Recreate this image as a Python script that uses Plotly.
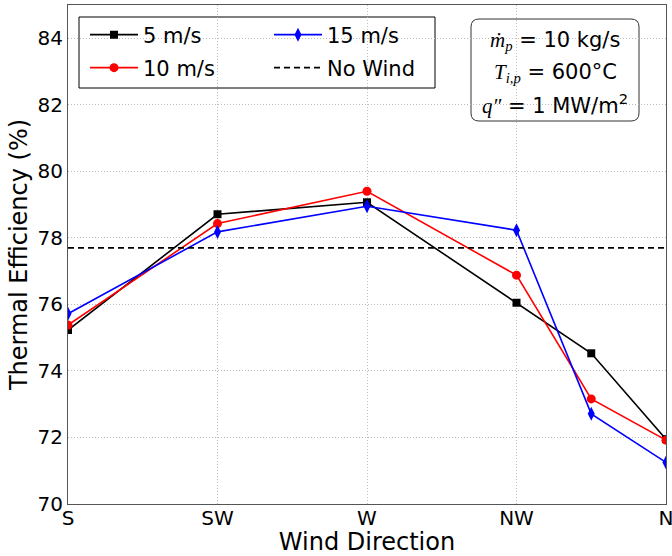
import plotly.graph_objects as go

# Wind direction, expressed as compass angle in degrees
wind_angle_deg = [180, 225, 270, 315, 337.5, 360]
direction_ticks = [180, 225, 270, 315, 360]
direction_labels = ["S", "SW", "W", "NW", "N"]

# Thermal efficiency (%) for each wind speed
eff_5ms = [75.23, 78.71, 79.07, 76.05, 74.53, 71.95]
eff_10ms = [75.38, 78.43, 79.40, 76.88, 73.16, 71.92]
eff_15ms = [75.72, 78.18, 78.95, 78.23, 72.71, 71.25]
eff_no_wind = 77.70

# plot-area geometry in pixels (used to place legend boxes / text box)
W, H = 672, 556
L, R, T, B = 68, 6, 5, 52
PW, PH = W - L - R, H - T - B


def px_x(px):
    return (px - L) / PW


def px_y(py):
    return (H - B - py) / PH


SANS = "DejaVu Sans"
SERIF = "Liberation Serif"

fig = go.Figure()

fig.add_trace(go.Scatter(
    x=wind_angle_deg, y=eff_5ms, name="5 m/s", mode="lines+markers",
    line=dict(color="black", width=1.6),
    marker=dict(symbol="square", size=8, color="black"),
    legend="legend",
))
fig.add_trace(go.Scatter(
    x=wind_angle_deg, y=eff_10ms, name="10 m/s", mode="lines+markers",
    line=dict(color="#ff0000", width=1.6),
    marker=dict(symbol="circle", size=9, color="#ff0000"),
    legend="legend2",
))
fig.add_trace(go.Scatter(
    x=wind_angle_deg, y=eff_15ms, name="15 m/s", mode="lines+markers",
    line=dict(color="#0000ff", width=1.6),
    marker=dict(symbol="diamond-tall", size=10, color="#0000ff"),
    legend="legend3",
))
fig.add_trace(go.Scatter(
    x=[direction_ticks[0], direction_ticks[-1]], y=[eff_no_wind, eff_no_wind],
    name="No Wind", mode="lines",
    line=dict(color="black", width=1.8, dash="6px,4px"),
    legend="legend4",
))

legend_common = dict(
    xanchor="left", yanchor="middle", bgcolor="rgba(0,0,0,0)",
    borderwidth=0, font=dict(family=SANS, size=21, color="black"),
    itemwidth=48, visible=True,
)
layout_legends = {
    "legend": dict(x=px_x(85), y=px_y(35), **legend_common),
    "legend2": dict(x=px_x(85), y=px_y(68), **legend_common),
    "legend3": dict(x=px_x(269), y=px_y(35), **legend_common),
    "legend4": dict(x=px_x(269), y=px_y(68), **legend_common),
}

# legend frame
shapes = [dict(
    type="rect", xref="paper", yref="paper",
    x0=px_x(79), x1=px_x(435), y0=px_y(88), y1=px_y(17),
    line=dict(color="black", width=1), fillcolor="white", layer="below",
)]

# rounded frame for the operating-condition text
bx0, bx1, by0, by1 = px_x(471), px_x(639), px_y(121), px_y(19)
rx, ry = 8 / PW, 8 / PH
path = (
    f"M {bx0 + rx},{by1} L {bx1 - rx},{by1} Q {bx1},{by1} {bx1},{by1 - ry} "
    f"L {bx1},{by0 + ry} Q {bx1},{by0} {bx1 - rx},{by0} "
    f"L {bx0 + rx},{by0} Q {bx0},{by0} {bx0},{by0 + ry} "
    f"L {bx0},{by1 - ry} Q {bx0},{by1} {bx0 + rx},{by1} Z"
)
shapes.append(dict(
    type="path", xref="paper", yref="paper", path=path,
    line=dict(color="#333333", width=1), fillcolor="white", layer="below",
))


def m(s):
    return f'<span style="font-family:{SERIF};font-style:italic">{s}</span>'


cond_lines = [
    f"{m('ṁ')}<sub>{m('p')}</sub> = 10 kg/s",
    f"{m('T')}<sub>{m('i,p')}</sub> = 600°C",
    f"{m('q″')} = 1 MW/m<sup>2</sup>",
]
cond_y = [41, 73, 104]
annotations = [
    dict(text=t, x=px_x(555), y=px_y(yy), xref="paper", yref="paper",
         xanchor="center", yanchor="middle", showarrow=False,
         font=dict(family=SANS, size=21, color="black"))
    for t, yy in zip(cond_lines, cond_y)
]

axis_common = dict(
    showline=True, mirror=True, linecolor="#555555", linewidth=1,
    showgrid=True, gridcolor="#bdbdbd", griddash="1px,2px", gridwidth=1,
    zeroline=False, ticks="", ticklabeloverflow="allow",
    tickfont=dict(family=SANS, size=20, color="black"),
)

fig.update_layout(
    width=W, height=H,
    margin=dict(l=L, r=R, t=T, b=B, autoexpand=False),
    paper_bgcolor="white", plot_bgcolor="white",
    showlegend=True,
    xaxis=dict(
        range=[180, 360], tickvals=direction_ticks, ticktext=direction_labels,
        ticklabelstandoff=-4,
        title=dict(text="Wind Direction", font=dict(family=SANS, size=24, color="black"),
                   standoff=0),
        **axis_common,
    ),
    yaxis=dict(
        range=[70, 85], tick0=70, dtick=2,
        title=dict(text="Thermal Efficiency (%)",
                   font=dict(family=SANS, size=24, color="black"), standoff=3),
        **axis_common,
    ),
    shapes=shapes,
    annotations=annotations,
    **layout_legends,
)

fig.write_html("out.html")
